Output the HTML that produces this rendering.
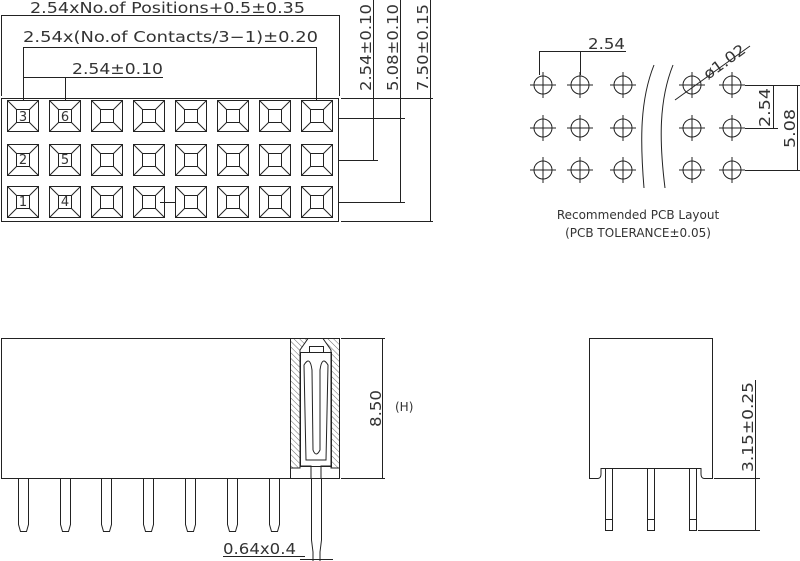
<!DOCTYPE html>
<html><head><meta charset="utf-8"><style>
html,body{margin:0;padding:0;background:#fff;}
svg{display:block;}
text{font-family:"DejaVu Sans","Liberation Sans",sans-serif;fill:#333;}
</style></head><body>
<svg width="800" height="561" viewBox="0 0 800 561" xmlns="http://www.w3.org/2000/svg">
<defs>
<g id="c" fill="none" stroke="#222" stroke-width="1">
<rect x="0" y="0" width="31" height="31"/>
<rect x="9" y="9" width="13" height="13"/>
<line x1="0" y1="0" x2="9" y2="9"/><line x1="31" y1="0" x2="22" y2="9"/>
<line x1="0" y1="31" x2="9" y2="22"/><line x1="31" y1="31" x2="22" y2="22"/>
</g>
<g id="h" fill="none" stroke="#222" stroke-width="1">
<circle cx="0" cy="0" r="9"/>
<line x1="-13" y1="0" x2="13" y2="0"/><line x1="0" y1="-13" x2="0" y2="13"/>
</g>
<g id="p" fill="none" stroke="#222" stroke-width="1">
<path d="M0 0 V46 L2 53 H8 L10 46 V0"/>
</g>
<pattern id="hatch" width="4" height="4" patternUnits="userSpaceOnUse" patternTransform="rotate(-45)">
<line x1="0" y1="0" x2="0" y2="4" stroke="#444" stroke-width="0.8"/>
</pattern>
</defs>
<g fill="none" stroke="#222" stroke-width="1">
<rect x="1.5" y="98.5" width="337" height="123"/>
<line x1="1.5" y1="15" x2="1.5" y2="96"/><line x1="339.5" y1="15" x2="339.5" y2="96"/>
<line x1="2" y1="15.5" x2="339" y2="15.5"/>
<line x1="23.5" y1="47" x2="23.5" y2="100"/><line x1="316.5" y1="47" x2="316.5" y2="100"/>
<line x1="23" y1="47.5" x2="317" y2="47.5"/>
<line x1="65.5" y1="77" x2="65.5" y2="100"/>
<line x1="23" y1="77.5" x2="163" y2="77.5"/>
<line x1="341" y1="98.5" x2="433" y2="98.5"/>
<line x1="338" y1="118.5" x2="405" y2="118.5"/>
<line x1="338" y1="160.5" x2="378" y2="160.5"/>
<line x1="338" y1="202.5" x2="405" y2="202.5"/>
<line x1="373.5" y1="0" x2="373.5" y2="160"/>
<line x1="400.5" y1="0" x2="400.5" y2="202"/>
<line x1="430.5" y1="0" x2="430.5" y2="221"/>
<line x1="341" y1="221.5" x2="433" y2="221.5"/>
<line x1="160" y1="202.5" x2="175" y2="202.5"/>
</g>
<g>
<use href="#c" x="7.5" y="100.5"/><use href="#c" x="49.5" y="100.5"/><use href="#c" x="91.5" y="100.5"/><use href="#c" x="133.5" y="100.5"/><use href="#c" x="175.5" y="100.5"/><use href="#c" x="217.5" y="100.5"/><use href="#c" x="259.5" y="100.5"/><use href="#c" x="301.5" y="100.5"/>
<use href="#c" x="7.5" y="144.5"/><use href="#c" x="49.5" y="144.5"/><use href="#c" x="91.5" y="144.5"/><use href="#c" x="133.5" y="144.5"/><use href="#c" x="175.5" y="144.5"/><use href="#c" x="217.5" y="144.5"/><use href="#c" x="259.5" y="144.5"/><use href="#c" x="301.5" y="144.5"/>
<use href="#c" x="7.5" y="186.5"/><use href="#c" x="49.5" y="186.5"/><use href="#c" x="91.5" y="186.5"/><use href="#c" x="133.5" y="186.5"/><use href="#c" x="175.5" y="186.5"/><use href="#c" x="217.5" y="186.5"/><use href="#c" x="259.5" y="186.5"/><use href="#c" x="301.5" y="186.5"/>
</g>
<g font-size="13" text-anchor="middle">
<text x="23" y="121">3</text><text x="65" y="121">6</text>
<text x="23" y="164">2</text><text x="65" y="164">5</text>
<text x="23" y="206">1</text><text x="65" y="206">4</text>
</g>
<g font-size="15">
<text x="30" y="13" textLength="275" lengthAdjust="spacingAndGlyphs">2.54xNo.of  Positions+0.5±0.35</text>
<text x="23" y="42" textLength="295" lengthAdjust="spacingAndGlyphs">2.54x(No.of  Contacts/3−1)±0.20</text>
<text x="72" y="74" textLength="91" lengthAdjust="spacingAndGlyphs">2.54±0.10</text>
<text transform="translate(371,91) rotate(-90)" textLength="87" lengthAdjust="spacingAndGlyphs">2.54±0.10</text>
<text transform="translate(398,91) rotate(-90)" textLength="87" lengthAdjust="spacingAndGlyphs">5.08±0.10</text>
<text transform="translate(428,91) rotate(-90)" textLength="87" lengthAdjust="spacingAndGlyphs">7.50±0.15</text>
</g>
<g>
<use href="#h" x="543" y="85"/><use href="#h" x="580" y="85"/><use href="#h" x="623" y="85"/><use href="#h" x="692" y="85"/><use href="#h" x="732" y="85"/>
<use href="#h" x="543" y="128"/><use href="#h" x="580" y="128"/><use href="#h" x="623" y="128"/><use href="#h" x="692" y="128"/><use href="#h" x="732" y="128"/>
<use href="#h" x="543" y="170"/><use href="#h" x="580" y="170"/><use href="#h" x="623" y="170"/><use href="#h" x="692" y="170"/><use href="#h" x="732" y="170"/>
</g>
<g fill="none" stroke="#222" stroke-width="1">
<line x1="539.5" y1="51" x2="539.5" y2="75"/><line x1="580.5" y1="51" x2="580.5" y2="75"/>
<line x1="540" y1="51.5" x2="626" y2="51.5"/>
<line x1="745" y1="85.5" x2="800" y2="85.5"/>
<line x1="745" y1="128.5" x2="778" y2="128.5"/>
<line x1="745" y1="170.5" x2="800" y2="170.5"/>
<line x1="773.5" y1="85" x2="773.5" y2="128"/>
<line x1="797.5" y1="85" x2="797.5" y2="170"/>
<line x1="675" y1="100" x2="750" y2="46"/>
<path d="M654 65 C640 100 640 140 644 188"/>
<path d="M673 65 C659 100 659 140 665 188"/>
</g>
<g font-size="15">
<text x="588" y="49" textLength="37" lengthAdjust="spacingAndGlyphs">2.54</text>
<text transform="translate(770,127) rotate(-90)" textLength="39" lengthAdjust="spacingAndGlyphs">2.54</text>
<text transform="translate(795,148) rotate(-90)" textLength="39" lengthAdjust="spacingAndGlyphs">5.08</text>
<text transform="translate(708,80) rotate(-36)" textLength="48" lengthAdjust="spacingAndGlyphs">ø1.02</text>
</g>
<g font-size="12" text-anchor="middle">
<text x="638" y="219">Recommended PCB Layout</text>
<text x="638" y="237">(PCB TOLERANCE±0.05)</text>
</g>
<g fill="none" stroke="#222" stroke-width="1">
<rect x="1.5" y="338.5" width="289" height="140"/>
<rect x="290.5" y="338.5" width="49" height="140"/>
<path d="M290.5 338.5 H308 L300 350 V468 H290.5 Z" fill="url(#hatch)"/>
<path d="M339.5 338.5 H323 L331 350 V468 H339.5 Z" fill="url(#hatch)"/>
<rect x="300.5" y="352.5" width="31" height="114"/>
<rect x="309.5" y="346.5" width="14" height="6"/>
<path d="M304 365 Q310 355 312 370 L313 450 Q316 458 320 450 L320 370 Q322 355 328 365 L326 460 H306 Z"/>
<path d="M300.5 466 H311 V478 M321 478 V466 H331"/>
<line x1="341" y1="338.5" x2="385" y2="338.5"/>
<line x1="341" y1="478.5" x2="385" y2="478.5"/>
<line x1="382.5" y1="338" x2="382.5" y2="478"/>
<path d="M311.5 478 V540 L313 552 V561 M321.5 478 V540 L320 552 V561"/>
<line x1="223" y1="556.5" x2="305" y2="556.5"/>
<line x1="300" y1="559.5" x2="333" y2="559.5"/>
</g>
<g>
<use href="#p" x="18.5" y="478.5"/><use href="#p" x="60.5" y="478.5"/><use href="#p" x="101.5" y="478.5"/><use href="#p" x="143.5" y="478.5"/><use href="#p" x="185.5" y="478.5"/><use href="#p" x="227.5" y="478.5"/><use href="#p" x="269.5" y="478.5"/>
</g>
<g font-size="15">
<text transform="translate(381,427) rotate(-90)" textLength="37" lengthAdjust="spacingAndGlyphs">8.50</text>
<text x="395" y="411" font-size="12">(H)</text>
<text x="223" y="554" textLength="73" lengthAdjust="spacingAndGlyphs">0.64x0.4</text>
</g>
<g fill="none" stroke="#222" stroke-width="1">
<path d="M589.5 478.5 V338.5 H712.5 V478.5 H704 Q701 478 701 474 V468.5 H601 V474 Q601 478 598 478.5 Z"/>
<rect x="605.5" y="468.5" width="7" height="62"/><line x1="605" y1="519.5" x2="613" y2="519.5"/>
<rect x="647.5" y="468.5" width="7" height="62"/><line x1="647" y1="519.5" x2="655" y2="519.5"/>
<rect x="689.5" y="468.5" width="7" height="62"/><line x1="689" y1="519.5" x2="697" y2="519.5"/>
<line x1="714" y1="478.5" x2="760" y2="478.5"/>
<line x1="698" y1="530.5" x2="760" y2="530.5"/>
<line x1="755.5" y1="380" x2="755.5" y2="530"/>
</g>
<text transform="translate(753,472) rotate(-90)" font-size="15" textLength="90" lengthAdjust="spacingAndGlyphs">3.15±0.25</text>
</svg>
</body></html>
